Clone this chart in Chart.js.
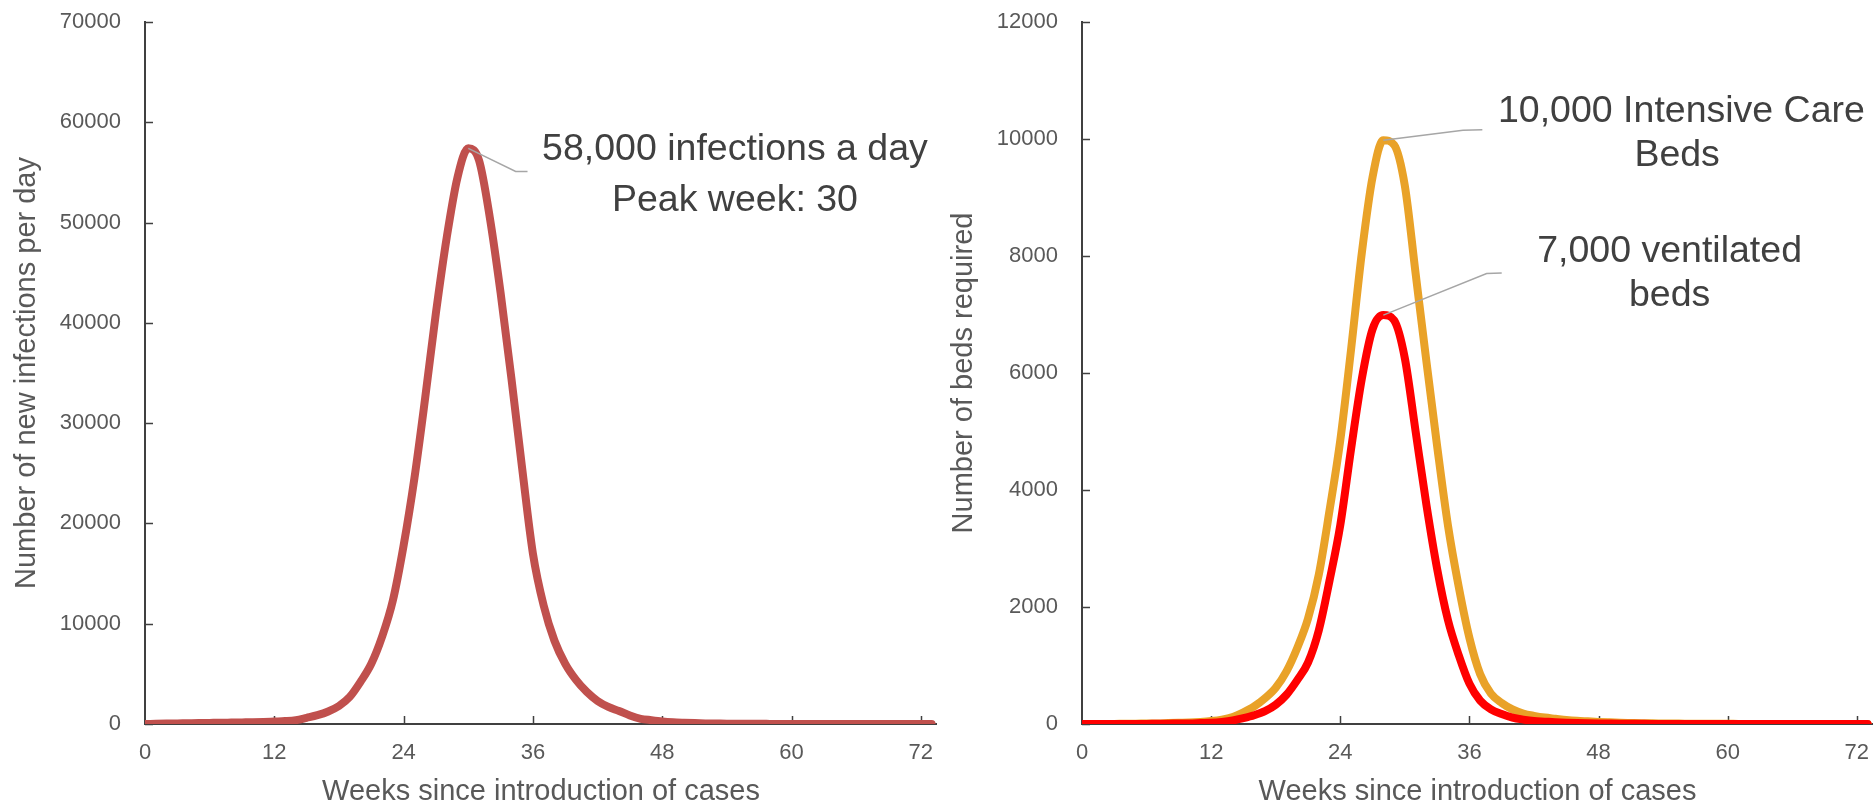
<!DOCTYPE html>
<html>
<head>
<meta charset="utf-8">
<script src="https://cdn.jsdelivr.net/npm/chart.js@4.4.1/dist/chart.umd.min.js"></script>
<style>
  html, body { margin: 0; padding: 0; background: #fff; }
  #wrap { position: relative; width: 1873px; height: 806px; overflow: hidden; }
  #left { position: absolute; left: 0; top: 0; }
  #right { position: absolute; left: 937px; top: 0; }
</style>
</head>
<body>
<div id="wrap">
  <canvas id="left" width="937" height="806"></canvas>
  <canvas id="right" width="936" height="806"></canvas>
</div>
<script>
// weeks since introduction of cases
const weeks = [0,1,2,3,4,5,6,7,8,9,10,11,12,13,14,15,16,17,18,19,20,21,22,23,24,25,26,27,28,29,30,31,32,33,34,35,36,
  37,38,39,40,41,42,43,44,45,46,47,48,49,50,51,52,53,54,55,56,57,58,59,60,61,62,63,64,65,66,67,68,69,70,71,72,73];
const weekTicks = [0,12,24,36,48,60,72];
const infectionTicks = [0,10000,20000,30000,40000,50000,60000,70000];
const bedTicks = [0,2000,4000,6000,8000,10000,12000];

// new infections per day
const infections = [0,20,40,60,80,100,110,120,140,160,180,210,250,290,380,620,880,1250,1800,2700,4200,6000,8700,12300,17800,
  24500,32500,41000,48500,54500,57400,56200,50500,43000,34500,25500,17000,11800,8300,6000,4400,3200,2300,1700,1300,850,520,
  380,260,180,130,90,60,45,30,25,20,16,12,10,8,6,5,4,3,2,2,1,1,1,1,0,0,0];

// beds required
const icuBeds = [0,0,0,0,5,5,10,10,15,20,25,35,50,75,120,200,300,440,620,900,1300,1800,2550,3650,4850,6400,8050,9350,9980,
  9900,9200,7700,6200,4750,3400,2350,1470,850,520,360,250,180,140,110,90,70,55,45,35,28,22,18,14,11,9,7,6,5,4,3,3,2,2,2,
  1,1,1,1,1,0,0,0,0,0];
const ventBeds = [0,0,0,0,0,0,0,5,5,10,10,15,20,35,60,100,150,220,330,500,750,1050,1600,2450,3400,4700,5900,6750,6990,
  6900,6250,5000,3750,2650,1780,1180,690,400,250,170,110,75,50,40,30,22,16,12,9,7,5,4,3,2,2,1,1,1,1,0,0,0,0,0,0,0,0,0,0,
  0,0,0,0,0];

const FONT = "'Liberation Sans', Arial, sans-serif";
const tickColor = '#595959';
const axisColor = '#404040';
const noteColor = '#404040';

// call-out texts, placed in data units
const infectionNote = {
  lines: [
    { x: 54.75, y: 57300, text: '58,000 infections a day' },
    { x: 54.75, y: 52200, text: 'Peak week: 30' }
  ],
  leader: [[30, 57400], [34.4, 55100], [35.5, 55100]]
};
const bedNotes = [
  {
    lines: [
      { x: 55.7, y: 10460, text: '10,000 Intensive Care' },
      { x: 55.3, y: 9720, text: 'Beds' }
    ],
    leader: [[28, 9980], [35.4, 10150], [37.2, 10160]]
  },
  {
    lines: [
      { x: 54.6, y: 8070, text: '7,000 ventilated' },
      { x: 54.6, y: 7320, text: 'beds' }
    ],
    leader: [[28, 6990], [37.6, 7700], [39, 7710]]
  }
];

function toPoints(values) {
  return weeks.map((w, i) => ({ x: w, y: values[i] }));
}

function decor(notes) {
  return {
    id: 'decor',
    beforeDatasetsDraw(chart) {
      const { ctx, chartArea: a, scales: { x, y } } = chart;
      ctx.save();
      ctx.strokeStyle = axisColor;
      ctx.lineWidth = 1.5;
      ctx.beginPath();
      y.ticks.forEach(t => {
        const py = Math.round(y.getPixelForValue(t.value)) + 0.5;
        ctx.moveTo(a.left, py); ctx.lineTo(a.left + 8, py);
      });
      x.ticks.forEach(t => {
        if (t.value === 0) return;
        const px = Math.round(x.getPixelForValue(t.value)) + 0.5;
        ctx.moveTo(px, a.bottom); ctx.lineTo(px, a.bottom - 8);
      });
      ctx.stroke();
      ctx.restore();
    },
    afterDatasetsDraw(chart) {
      const { ctx, scales: { x, y } } = chart;
      ctx.save();
      notes.forEach(n => {
        ctx.strokeStyle = '#a6a6a6';
        ctx.lineWidth = 1.5;
        ctx.beginPath();
        n.leader.forEach((p, i) => {
          const px = x.getPixelForValue(p[0]), py = y.getPixelForValue(p[1]);
          if (i === 0) ctx.moveTo(px, py); else ctx.lineTo(px, py);
        });
        ctx.stroke();
        ctx.fillStyle = noteColor;
        ctx.font = '37.5px ' + FONT;
        ctx.textAlign = 'center';
        ctx.textBaseline = 'middle';
        n.lines.forEach(l => {
          ctx.fillText(l.text, x.getPixelForValue(l.x), y.getPixelForValue(l.y));
        });
      });
      ctx.restore();
    }
  };
}

function options(yTicks, yTitle) {
  return {
    responsive: false,
    animation: false,
    devicePixelRatio: 1,
    layout: { padding: { left: 0, right: 0, top: 22, bottom: 0 } },
    plugins: { legend: { display: false }, tooltip: { enabled: false } },
    elements: { point: { radius: 0 } },
    scales: {
      x: {
        type: 'linear',
        min: 0,
        max: 73.5,
        afterBuildTicks: s => { s.ticks = weekTicks.map(v => ({ value: v })); },
        afterFit: s => { s.height = 82; s.paddingLeft = 0; s.paddingRight = 0; },
        grid: { display: false, drawTicks: false },
        border: { display: true, color: axisColor, width: 2 },
        ticks: { color: tickColor, font: { family: FONT, size: 22 }, padding: 16, maxRotation: 0, autoSkip: false },
        title: {
          display: true, text: 'Weeks since introduction of cases', color: tickColor,
          font: { family: FONT, size: 29, lineHeight: 1 }, padding: { top: 0, bottom: 0 }
        }
      },
      y: {
        type: 'linear',
        min: 0,
        max: yTicks[yTicks.length - 1],
        afterBuildTicks: s => { s.ticks = yTicks.map(v => ({ value: v })); },
        afterFit: s => { s.width = 145; s.paddingTop = 0; s.paddingBottom = 0; },
        grid: { display: false, drawTicks: false },
        border: { display: true, color: axisColor, width: 2 },
        ticks: { color: tickColor, font: { family: FONT, size: 22 }, padding: 24, callback: v => String(v) },
        title: {
          display: true, text: yTitle, color: tickColor,
          font: { family: FONT, size: 29, lineHeight: 1 }, padding: { top: 12, bottom: 0 }
        }
      }
    }
  };
}

function lineSet(values, color) {
  return {
    data: toPoints(values),
    borderColor: color,
    borderWidth: 8,
    fill: false,
    cubicInterpolationMode: 'monotone',
    borderCapStyle: 'round',
    borderJoinStyle: 'round'
  };
}

new Chart(document.getElementById('left').getContext('2d'), {
  type: 'line',
  data: { datasets: [lineSet(infections, '#c0504d')] },
  options: options(infectionTicks, 'Number of new infections per day'),
  plugins: [decor([infectionNote])]
});

new Chart(document.getElementById('right').getContext('2d'), {
  type: 'line',
  data: { datasets: [lineSet(ventBeds, '#ff0000'), lineSet(icuBeds, '#e9a228')] },
  options: options(bedTicks, 'Number of beds required'),
  plugins: [decor(bedNotes)]
});
</script>
</body>
</html>
